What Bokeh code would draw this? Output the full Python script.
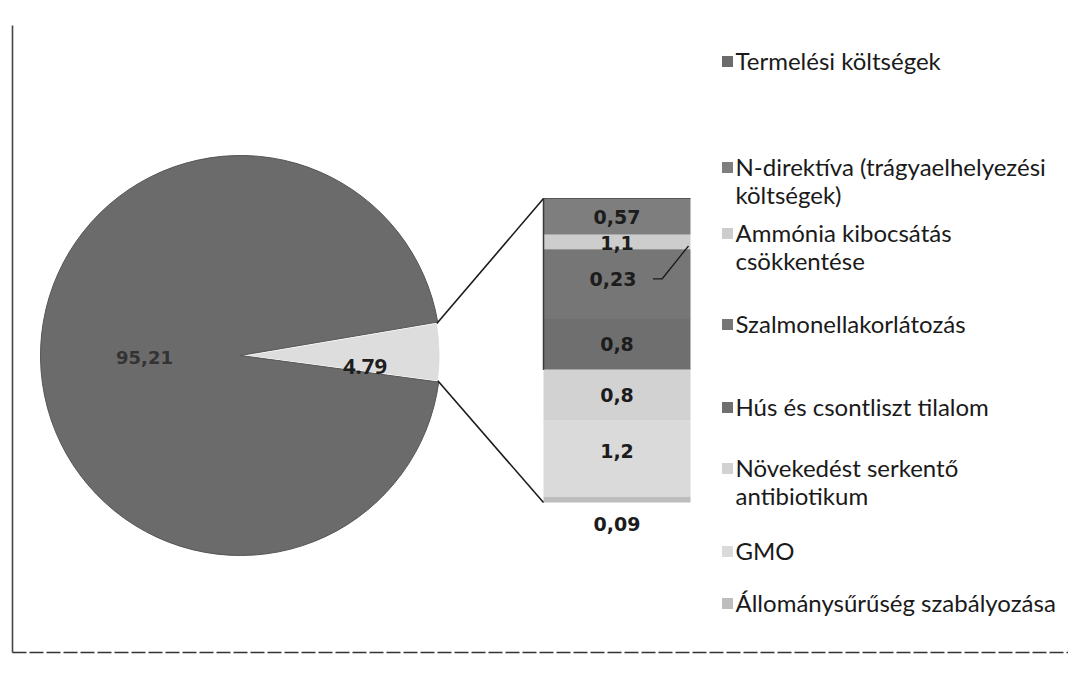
import math
from bokeh.plotting import figure
from bokeh.models import Range1d
from bokeh.embed import file_html
from bokeh.resources import INLINE
from bokeh.core.properties import value

# ---------------- data ----------------
main_categories = ["Termelési költségek", "Egyéb"]
main_values = [95.21, 4.79]
main_value_labels = ["95,21", "4.79"]

sub_categories = [
    "N-direktíva (trágyaelhelyezési költségek)",
    "Ammónia kibocsátás csökkentése",
    "Szalmonellakorlátozás",
    "Hús és csontliszt tilalom",
    "Növekedést serkentő antibiotikum",
    "GMO",
    "Állománysűrűség szabályozása",
]
sub_values = [0.57, 0.23, 1.1, 0.8, 0.8, 1.2, 0.09]
sub_value_labels = ["0,57", "0,23", "1,1", "0,8", "0,8", "1,2", "0,09"]

legend_lines = [
    ["Termelési költségek"],
    ["N-direktíva (trágyaelhelyezési", "költségek)"],
    ["Ammónia kibocsátás", "csökkentése"],
    ["Szalmonellakorlátozás"],
    ["Hús és csontliszt tilalom"],
    ["Növekedést serkentő", "antibiotikum"],
    ["GMO"],
    ["Állománysűrűség szabályozása"],
]

# ---------------- styles ----------------
main_color = "#6b6b6b"
other_color = "#dddddd"
sub_colors = ["#7e7e7e", "#cdcdcd", "#767676", "#6f6f6f", "#d2d2d2", "#dadada", "#bdbdbd"]
legend_colors = [main_color] + sub_colors

W, H = 1068, 670


def Y(py):
    # page pixel row -> data y (y grows upward)
    return 686 - py


p = figure(width=W, height=H, x_range=Range1d(0, 1068), y_range=Range1d(16, 686),
           output_backend="svg", toolbar_location=None, min_border=0)
p.axis.visible = False
p.grid.visible = False
p.outline_line_color = None
p.background_fill_color = "white"

# ---------------- main pie ----------------
cx, cy, R = 240, Y(355), 200
total = sum(main_values)
other_span = main_values[1] / total * 2 * math.pi
other_mid = math.radians(1.0)
o_start = other_mid - other_span / 2
o_end = other_mid + other_span / 2

p.wedge(x=[cx], y=[cy], radius=R, start_angle=[o_end], end_angle=[o_start + 2 * math.pi],
        direction="anticlock", fill_color=main_color, line_color="#555555", line_width=1)

tx, ty, r2 = 248, cy, 191
p.wedge(x=[tx], y=[ty], radius=r2, start_angle=[o_start], end_angle=[o_end],
        direction="anticlock", fill_color=other_color, line_color=None)

# labels in pie
main_mid = o_end + (2 * math.pi - other_span) / 2
p.text(x=[cx + 0.48 * R * math.cos(main_mid)], y=[cy + 0.48 * R * math.sin(main_mid)],
       text=[main_value_labels[0]], text_font=value("DejaVu Sans"), text_font_style="bold",
       text_font_size="18px", text_color="#333333", text_align="center", text_baseline="middle")
p.text(x=[tx + 0.61 * r2 * math.cos(other_mid)], y=[ty - 11],
       text=[main_value_labels[1]], text_font=value("Open Sans"), text_font_style="bold",
       text_font_size="22px", text_color="#1e1e1e", text_align="center", text_baseline="middle")

# ---------------- secondary bar ----------------
bl, br = 543, 690
btop, bbot = Y(198), Y(502)
scale = (btop - bbot) / sum(sub_values)
tops, bottoms = [], []
cur = btop
for v in sub_values:
    tops.append(cur)
    cur -= v * scale
    bottoms.append(cur)

p.quad(left=[bl] * len(sub_values), right=[br] * len(sub_values), top=tops, bottom=bottoms,
       fill_color=sub_colors, line_color=None)
p.line(x=[bl, bl], y=[btop, bottoms[3]], line_color="#3a3a3a", line_width=1.5)
p.line(x=[bl, br], y=[btop, btop], line_color="#555555", line_width=1)

# connector lines
ux, uy = tx + r2 * math.cos(o_end), ty + r2 * math.sin(o_end)
lx, ly = tx + r2 * math.cos(o_start), ty + r2 * math.sin(o_start)
p.line(x=[ux, bl], y=[uy, btop], line_color="#1a1a1a", line_width=1.6)
p.line(x=[lx, bl], y=[ly, bbot], line_color="#1a1a1a", line_width=1.6)

# bar value labels
bx = (bl + br) / 2
centers = [(t + b) / 2 for t, b in zip(tops, bottoms)]
lab_y = list(centers)
lab_y[2] = centers[1] - 1          # "1,1" drawn over the thin band
lab_y[1] = centers[1] - 37         # "0,23" moved down, with leader line
lab_y[5] = centers[5] + 8
lab_y[6] = bbot - 21               # "0,09" below the bar
lab_x = [bx] * len(sub_values)
lab_x[1] = bx - 4
p.text(x=lab_x, y=lab_y, text=sub_value_labels, text_font=value("DejaVu Sans"),
       text_font_style="bold", text_font_size="19px", text_color="#1c1c1c",
       text_align="center", text_baseline="middle")
p.line(x=[lab_x[1] + 40, lab_x[1] + 49, br - 2], y=[lab_y[1], lab_y[1], centers[1] - 4],
       line_color="#1a1a1a", line_width=1.3)

# ---------------- legend ----------------
legend_rows = [60, 166, 232, 323, 406, 467, 550, 602]
line_gap = 28
mk_x, txt_x = 727, 735
for i, lines in enumerate(legend_lines):
    y0 = legend_rows[i]
    p.rect(x=[mk_x], y=[Y(y0 + 1)], width=11, height=11, fill_color=legend_colors[i],
           line_color=None)
    p.text(x=[txt_x] * len(lines), y=[Y(y0 + k * line_gap) for k in range(len(lines))],
           text=lines, text_font=value("Lato"), text_font_size="24px",
           text_color="#1a1a1a", text_baseline="middle", text_align="left")

# ---------------- frame ----------------
p.line(x=[12, 12], y=[Y(25), Y(652)], line_color="#444444", line_width=1.6)
p.line(x=[12, 1084], y=[Y(652), Y(652)], line_color="#333333", line_width=1.6,
       line_dash="14 3")

open("out.html", "w").write(file_html(p, INLINE))
